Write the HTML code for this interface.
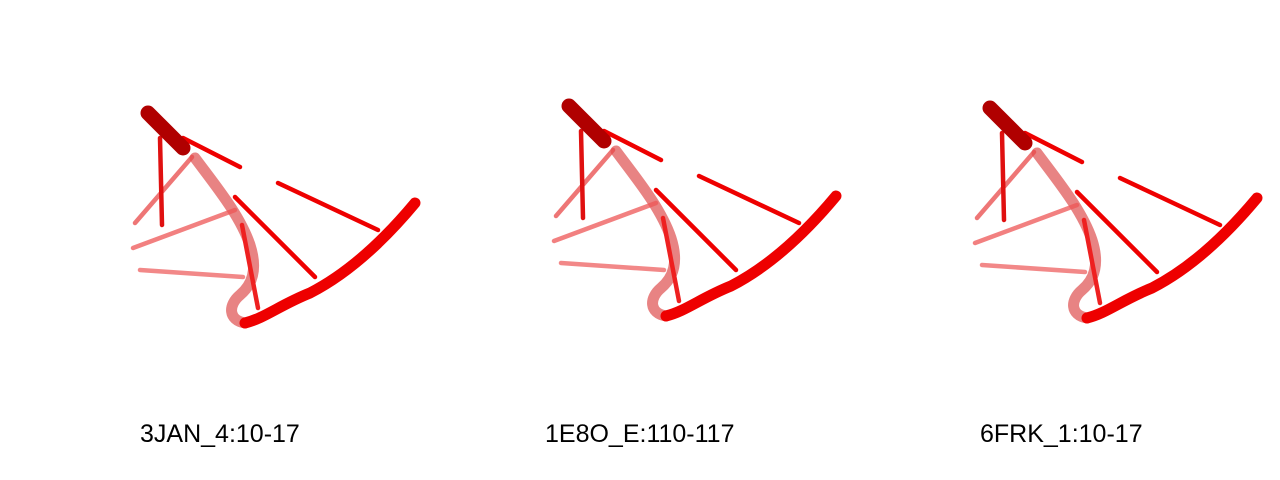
<!DOCTYPE html>
<html><head><meta charset="utf-8"><style>
html,body{margin:0;padding:0;background:#fff;width:1280px;height:480px;overflow:hidden}
text{font-family:"Liberation Sans",sans-serif;font-size:25px;fill:#000}
</style></head><body>
<svg width="1280" height="480" viewBox="0 0 1280 480">
<defs>
<g id="rna">
  <g stroke-linecap="round" fill="none">
    <path d="M195,158 C215,185 240,215 250,245 C258,270 252,285 240,295 C228,305 228,320 245,323" stroke="#d83030" stroke-opacity="0.6" stroke-width="11"/>
    <line x1="192" y1="157" x2="135" y2="223" stroke="#e84848" stroke-opacity="0.75" stroke-width="4.5"/>
    <line x1="235" y1="210" x2="133" y2="248" stroke="#ee5555" stroke-opacity="0.75" stroke-width="4.5"/>
    <line x1="140" y1="270" x2="243" y2="277" stroke="#ee6060" stroke-opacity="0.75" stroke-width="4.5"/>
    <line x1="242" y1="225" x2="258" y2="308" stroke="#ee2020" stroke-width="4.5"/>
    <line x1="160" y1="138" x2="162" y2="225" stroke="#e01010" stroke-width="4.5"/>
    <line x1="183" y1="138" x2="240" y2="167" stroke="#ee0000" stroke-width="4.5"/>
    <line x1="235" y1="197" x2="315" y2="277" stroke="#ee0000" stroke-width="4.5"/>
    <line x1="278" y1="183" x2="378" y2="230" stroke="#ee0000" stroke-width="4.5"/>
    <path d="M245,323 C265,318 280,305 310,293 C345,275 380,245 415,203" stroke="#ee0000" stroke-width="11"/>
    <path d="M148,113 L183,148" stroke="#b00000" stroke-width="15"/>
  </g>
</g>
</defs>
<g><use href="#rna"/></g>
<g><use href="#rna" transform="translate(421,-7)"/></g>
<g><use href="#rna" transform="translate(842,-5)"/></g>
<text x="140" y="442">3JAN_4:10-17</text>
<text x="545" y="442">1E8O_E:110-117</text>
<text x="980" y="442">6FRK_1:10-17</text>
</svg>
</body></html>
